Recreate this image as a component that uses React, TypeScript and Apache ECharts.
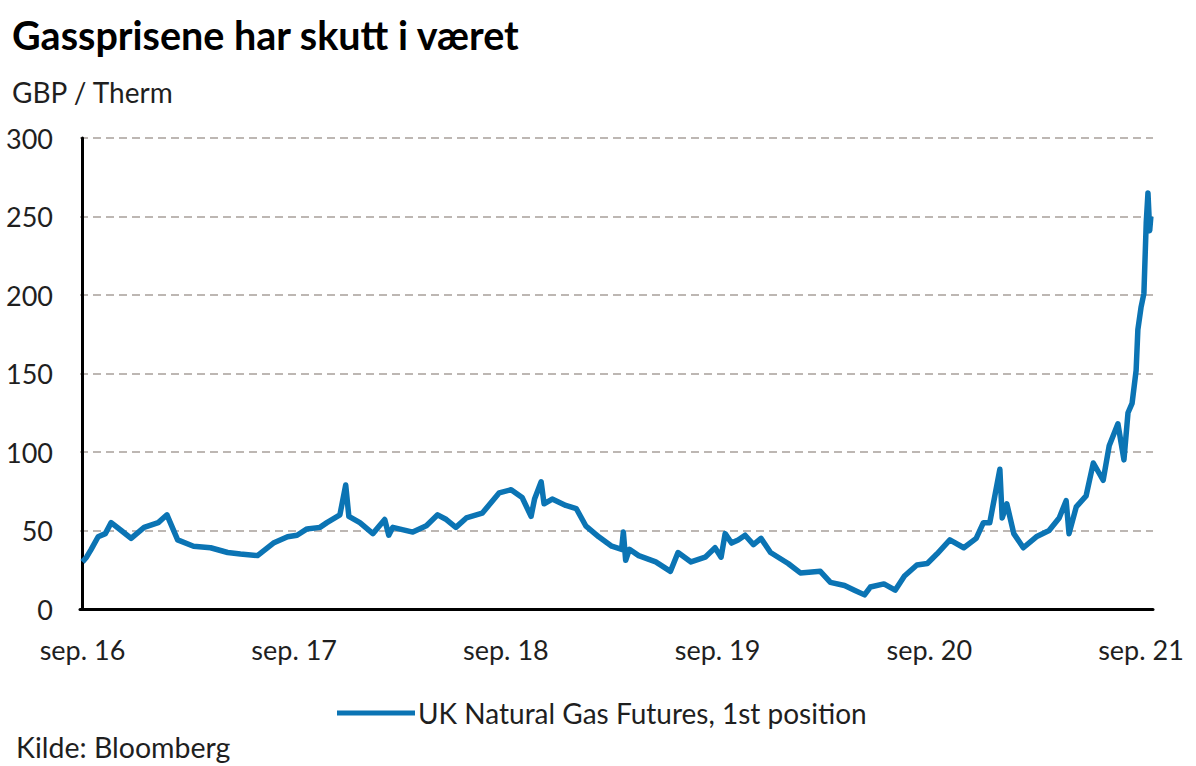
import React, { useEffect, useRef } from "react";
import * as echarts from "echarts";

const title = "Gassprisene har skutt i været";
const unitLabel = "GBP / Therm";
const sourceLabel = "Kilde: Bloomberg";
const seriesName = "UK Natural Gas Futures, 1st position";

const dates: string[] = [
  "2016-09-01", "2016-09-08", "2016-09-16", "2016-09-28", "2016-10-10", "2016-10-20",
  "2016-11-07", "2016-11-24", "2016-12-16", "2017-01-10", "2017-01-25", "2017-02-13",
  "2017-03-10", "2017-04-09", "2017-05-08", "2017-05-30", "2017-06-29", "2017-07-26",
  "2017-08-20", "2017-09-06", "2017-09-23", "2017-10-15", "2017-10-27", "2017-11-19",
  "2017-11-29", "2017-12-04", "2017-12-23", "2018-01-15", "2018-02-05", "2018-02-12",
  "2018-02-19", "2018-03-23", "2018-04-16", "2018-05-05", "2018-05-20", "2018-06-06",
  "2018-06-24", "2018-07-21", "2018-08-20", "2018-09-10", "2018-09-29", "2018-10-14",
  "2018-10-20", "2018-11-01", "2018-11-06", "2018-11-20", "2018-12-13", "2018-12-31",
  "2019-01-17", "2019-02-09", "2019-03-01", "2019-03-18", "2019-03-21", "2019-03-25",
  "2019-04-01", "2019-04-17", "2019-05-16", "2019-06-11", "2019-06-24", "2019-07-16",
  "2019-08-10", "2019-08-27", "2019-09-07", "2019-09-14", "2019-09-25", "2019-10-06",
  "2019-10-18", "2019-11-02", "2019-11-15", "2019-12-01", "2020-01-01", "2020-01-22",
  "2020-02-26", "2020-03-13", "2020-04-07", "2020-04-24", "2020-05-11", "2020-05-21",
  "2020-06-14", "2020-07-03", "2020-07-19", "2020-08-10", "2020-08-28", "2020-09-14",
  "2020-10-06", "2020-10-30", "2020-11-21", "2020-12-03", "2020-12-14", "2021-01-01",
  "2021-01-05", "2021-01-13", "2021-01-25", "2021-02-11", "2021-03-03", "2021-03-25",
  "2021-04-12", "2021-04-24", "2021-04-29", "2021-05-11", "2021-05-28", "2021-06-10",
  "2021-06-27", "2021-07-07", "2021-07-22", "2021-08-02", "2021-08-09", "2021-08-16",
  "2021-08-23", "2021-08-26", "2021-09-01", "2021-09-06", "2021-09-10", "2021-09-13",
  "2021-09-16", "2021-09-18",
];

const prices: number[] = [
  30, 33, 38, 46, 48, 55,
  50, 45, 52, 55, 60, 44,
  40, 39, 36, 35, 34, 42,
  46, 47, 51, 52, 55, 60,
  79, 59, 55, 48, 57, 47,
  52, 49, 53, 60, 57, 52,
  58, 61, 74, 76, 71, 59,
  70, 81, 67, 70, 66, 64,
  53, 46, 40, 38, 49, 31,
  38, 34, 30, 24, 36, 30,
  33, 39, 33, 48, 42, 44,
  47, 41, 45, 36, 29, 23,
  24, 17, 15, 12, 9, 14,
  16, 12, 21, 28, 29, 35,
  44, 39, 45, 55, 55, 89,
  58, 67, 48, 39, 46, 50,
  58, 69, 48, 65, 72, 93,
  82, 104, 118, 95, 125, 131,
  152, 178, 192, 201, 246, 265,
  241, 250,
];

// x axis tick labels (September of each year)
const tickYears: number[] = [2016, 2017, 2018, 2019, 2020, 2021];
const tickLabels: string[] = ["sep. 16", "sep. 17", "sep. 18", "sep. 19", "sep. 20", "sep. 21"];

// months since 1 Sep 2016
const toMonths = (s: string): number => {
  const [y, m, d] = s.split("-").map(Number);
  return (y - 2016) * 12 + (m - 9) + (d - 1) / 30.4;
};

const FONT = "Lato, 'Open Sans', sans-serif";
const TEXT = "#1f1f1f";

export default function App() {
  const ref = useRef<HTMLDivElement>(null);

  useEffect(() => {
    if (!ref.current) return;
    const chart = echarts.init(ref.current, null, { renderer: "svg" });
    const tickValues = tickYears.map((y) => toMonths(`${y}-09-01`));
    const data = dates.map((d, i) => [toMonths(d), prices[i]]);

    chart.setOption({
      animation: false,
      backgroundColor: "#ffffff",
      title: [
        {
          text: title,
          left: 12,
          top: 14,
          padding: 0,
          textStyle: { fontSize: 39.5, fontWeight: "bold", fontFamily: FONT, color: "#000" },
        },
        {
          text: unitLabel,
          left: 12,
          top: 78,
          padding: 0,
          textStyle: { fontSize: 28, fontWeight: "normal", fontFamily: FONT, color: TEXT },
        },
        {
          text: sourceLabel,
          left: 16,
          top: 732,
          padding: 0,
          textStyle: { fontSize: 28.5, fontWeight: "normal", fontFamily: FONT, color: TEXT },
        },
      ],
      legend: {
        left: 337,
        top: 699,
        padding: 0,
        icon: "rect",
        itemWidth: 78,
        itemHeight: 5,
        textStyle: { fontSize: 28, fontFamily: FONT, color: TEXT, padding: [0, 0, 0, -2] },
        data: [seriesName],
      },
      grid: { left: 80, right: 43, top: 138, bottom: 157 },
      xAxis: {
        type: "value",
        min: -0.14,
        max: 60.68,
        axisLine: { show: true, onZero: false, lineStyle: { color: "#000", width: 3 } },
        axisTick: { show: false },
        splitLine: { show: false },
        axisLabel: {
          customValues: tickValues,
          formatter: (v: number) => {
            const idx = tickValues.findIndex((t) => Math.abs(t - v) < 0.01);
            return idx >= 0 ? tickLabels[idx] : "";
          },
          fontSize: 27,
          fontFamily: FONT,
          color: TEXT,
          margin: 27,
        },
      },
      yAxis: {
        type: "value",
        min: 0,
        max: 300,
        interval: 50,
        axisLine: { show: true, lineStyle: { color: "#000", width: 3 } },
        axisTick: { show: false },
        splitLine: {
          show: true,
          lineStyle: { color: "#a8a09a", width: 1.5, type: [8, 5] },
        },
        axisLabel: { fontSize: 27, fontFamily: FONT, color: TEXT, margin: 27 },
      },
      series: [
        {
          name: seriesName,
          type: "line",
          data,
          showSymbol: false,
          lineStyle: { color: "#0b74b4", width: 5.5, join: "round" },
          itemStyle: { color: "#0b74b4" },
          z: 3,
        },
      ],
    });
    return () => chart.dispose();
  }, []);

  return (
    <div
      ref={ref}
      style={{ position: "fixed", left: 0, top: 0, width: 1196, height: 766, background: "#fff" }}
    />
  );
}
